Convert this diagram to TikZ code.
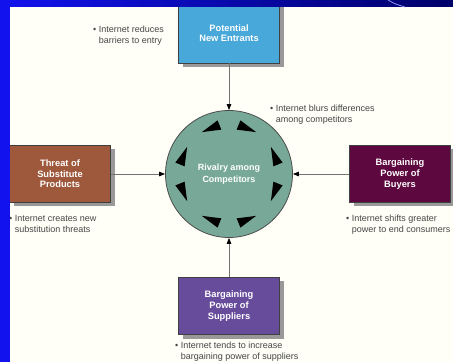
\documentclass[tikz,border=0pt]{standalone}
\usepackage{fontspec}
\setmainfont{Liberation Sans}
\usepackage{xcolor}
\usepackage{tikz}
\definecolor{slideblue}{RGB}{18, 18, 238}
\definecolor{slidenavy}{RGB}{0, 0, 105}
\definecolor{paperwhite}{RGB}{255, 255, 247}
\definecolor{entrantblue}{RGB}{72, 168, 218}
\definecolor{substitutebrown}{RGB}{158, 88, 60}
\definecolor{buyerplum}{RGB}{94, 8, 64}
\definecolor{supplierpurple}{RGB}{104, 76, 156}
\definecolor{rivalgreen}{RGB}{120, 168, 152}
\definecolor{notegray}{RGB}{70, 70, 70}
\usetikzlibrary{arrows.meta, positioning, shadows}

\newcommand{\notelines}[2]{\textbullet\ #1\\\hphantom{\textbullet\ }#2}

\tikzset{
    forcebox/.style={draw=black!75, line width=0.6pt, minimum width=101pt, minimum height=57pt,
        inner sep=2pt, align=center, text=white, font=\fontsize{9.3}{10.6}\selectfont\bfseries,
        drop shadow={shadow xshift=4pt, shadow yshift=-4pt, fill=black!40, opacity=1}},
    rivalcircle/.style={circle, draw=black!70, line width=0.8pt, fill=rivalgreen, minimum size=127pt,
        inner sep=0pt, align=center, text=white, font=\fontsize{9}{11.5}\selectfont\bfseries},
    notetext/.style={anchor=west, inner sep=0pt, align=left, text=notegray,
        font=\fontsize{9}{11}\selectfont},
    forcearrow/.style={draw=black!55, line width=0.8pt, -{Triangle[length=6pt, width=4.5pt, color=black]}}
}

\begin{document}
\begin{tikzpicture}[x=1pt, y=1pt]
    \useasboundingbox (0,0) rectangle (453,362);
    \fill[paperwhite] (0,0) rectangle (453,362);

    % the five forces
    \node[rivalcircle] (rivalry) at (229,188) {Rivalry among\\Competitors};
    \node[forcebox, fill=entrantblue, minimum height=60pt] (entrants) at (229,329) {Potential\\New Entrants};
    \node[forcebox, fill=substitutebrown] (substitutes) at (60,188) {Threat of\\Substitute\\Products};
    \node[forcebox, fill=buyerplum] (buyers) at (400,188) {Bargaining\\Power of\\Buyers};
    \node[forcebox, fill=supplierpurple] (suppliers) at (229,56) {Bargaining\\Power of\\Suppliers};

    \draw[forcearrow] (entrants.south) -- (rivalry.north);
    \draw[forcearrow] (substitutes.east) -- (rivalry.west);
    \draw[forcearrow] (buyers.west) -- (rivalry.east);
    \draw[forcearrow] (suppliers.north) -- (rivalry.south);

    % arrowheads inside the circle
    \foreach \a/\d in {112/202, 68/-22, 22/112, -22/-112, -68/22, 248/158, 202/292, 158/68}
        \fill[black, shift={(rivalry.center)}, shift={(\a:49)}, rotate=\d]
            (9.5,0) -- (-9.5,5) -- (-9.5,-5) -- cycle;

    % internet notes
    \node[notetext] (notereduces) at (93,326) {\notelines{Internet reduces}{barriers to entry}};
    \node[notetext] (noteblurs) at (270,247) {\notelines{Internet blurs differences}{among competitors}};
    \node[notetext] (notecreates) at (9,138) {\notelines{Internet creates new}{substitution threats}};
    \node[notetext] (noteshifts) at (346,137) {\notelines{Internet shifts greater}{power to end consumers}};
    \node[notetext] (notetends) at (175,10) {\notelines{Internet tends to increase}{bargaining power of suppliers}};

    % slide frame
    \fill[slideblue] (0,0) rectangle (10,362);
    \shade[left color=slideblue, right color=slidenavy] (0,355) rectangle (453,362);
    \draw[slideblue!45!white, line width=0.8pt] (388,362) .. controls (395,358) .. (405,355);
\end{tikzpicture}
\end{document}
